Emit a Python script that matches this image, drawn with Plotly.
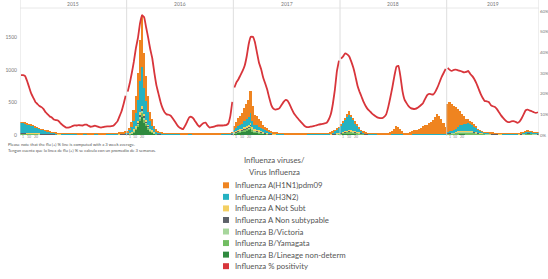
import plotly.graph_objects as go

# ---------------- data ----------------
years = ["2015", "2016", "2017", "2018", "2019"]
weeks_per_year = [52, 52, 52, 52, 45]
week_tick_text = ["1", "10", "20"]

h1n1 = ([5,5,5,4,4,4,3,3,3,3, 2,2,2,2,2,2,2,1,1,1, 1,1,1,1,1,1,1,1,1,1, 1,1,1,1,1,1,1,1,1,1, 1,1,1,1,1,2,3,5,8,10, 15,20]
        + [20,45,80,170,260,420,640,800,540,380, 250,140,95,50,30,15,10,7,5,4, 3,3,2,2,2,2,1,1,1,1, 1,1,1,1,1,1,1,1,1,1, 1,1,1,1,1,1,1,1,2,3, 5,8]
        + [60,95,130,150,170,210,240,275,340,220, 155,140,115,100,75,60,50,35,25,18, 13,10,8,6,5,4,3,3,2,2, 2,2,2,2,2,2,2,2,2,2, 2,2,2,2,2,2,2,3,4,6, 8,10]
        + [15,20,25,35,50,45,35,30,20,15, 10,5,3,2,2,2,2,2,2,2, 2,3,5,10,25,45,70,120,100,70, 40,15,10,20,30,40,55,65,85,95, 125,135,140,165,185,215,265,305,285,235, 165,105]
        + [430,445,410,370,330,270,220,160,120,80, 60,45,35,25,20,10,10,5,5,4, 4,3,3,3,2,2,2,2,2,2, 2,2,2,2,2,2,2,2,2,2, 2,2,2,2,2])

h3n2 = ([150,150,145,135,130,120,110,95,85,75, 65,58,52,40,32,25,20,15,10,8, 6,5,4,4,3,3,3,2,2,2, 2,2,2,2,2,2,2,2,2,2, 2,2,2,2,3,3,4,6,8,10, 12,15]
        + [20,40,70,130,200,320,480,600,410,290, 190,110,75,45,30,20,15,10,8,6, 5,4,4,3,3,3,2,2,2,2, 2,2,2,2,2,2,2,2,2,2, 2,2,2,2,2,2,3,3,4,6, 10,15]
        + [35,45,60,65,75,90,100,115,140,95, 70,65,55,50,38,30,25,20,15,10, 8,7,5,3,3,2,2,2,2,2, 2,2,2,2,2,2,2,2,2,3, 3,3,3,4,5,6,8,12,25,40, 60,80]
        + [110,145,185,215,240,200,165,125,90,55, 30,15,8,5,4,3,3,2,2,2, 2,2,2,2,2,2,2,2,2,2, 2,2,2,2,2,2,2,2,2,2, 2,2,2,2,2,2,2,2,2,2, 2,3]
        + [10,15,20,30,45,65,85,95,110,115, 125,115,100,85,70,40,30,20,12,10, 10,8,8,6,5,4,4,3,3,3, 3,3,3,3,4,6,10,18,25,28, 26,22,18,15,12])

a_not_subt = ([5,5,5,4,4,4,3,3,3,2, 2,2,2,2,1,1,1,1,1,1, 1,1,1,1,1,1,1,1,1,1, 1,1,1,1,1,1,1,1,1,1, 1,1,1,1,1,1,1,1,2,2, 2,3]
        + [2,3,5,15,20,30,40,50,35,30, 20,10,10,5,3,2,2,1,1,1, 1,1,1,1,1,1,1,1,1,1, 1,1,1,1,1,1,1,1,1,1, 1,1,1,1,1,1,1,1,1,1, 1,2]
        + [5,8,12,15,18,22,25,28,35,22, 15,14,12,10,8,6,5,4,3,2, 2,2,1,1,1,1,1,1,1,1, 1,1,1,1,1,1,1,1,1,1, 1,1,1,1,1,1,1,1,2,2, 3,4]
        + [5,5,10,10,10,10,10,5,5,5, 3,2,1,1,1,1,1,1,1,1, 1,1,1,1,1,1,1,2,2,1, 1,1,1,1,1,1,1,1,1,1, 1,1,1,1,1,1,1,1,1,1, 1,1]
        + [5,5,5,5,5,5,5,5,4,4, 4,3,3,3,2,2,2,1,1,1, 1,1,1,1,1,1,1,1,1,1, 1,1,1,1,1,1,1,1,1,1, 1,1,1,1,1])

a_non_subtypable = ([10,10,10,9,9,8,8,7,6,6, 6,5,5,5,5,5,5,5,6,6, 6,6,5,5,6,6,7,7,6,6, 6,7,7,6,6,6,7,7,6,6, 6,6,7,7,6,6,6,6,7,7, 7,8]
        + [6,8,10,12,12,12,20,20,20,12, 10,8,6,8,8,8,7,6,6,6, 6,6,6,6,6,6,6,6,6,6, 7,7,6,6,6,6,6,6,6,6, 6,6,6,6,6,6,6,6,7,7, 7,8]
        + [8,8,8,8,8,10,10,12,12,10, 10,8,8,8,8,7,7,6,6,6, 6,6,6,6,6,6,6,6,6,6, 6,6,6,6,6,6,7,7,7,7, 6,6,6,6,6,6,6,7,7,8, 8,8]
        + [5,5,5,5,5,5,5,5,5,5, 5,5,6,6,6,6,6,6,6,6, 6,6,6,6,6,6,6,6,6,6, 6,6,6,6,6,6,6,6,6,6, 6,6,6,6,6,6,6,6,6,6, 6,6]
        + [10,10,5,5,5,5,5,5,5,5, 5,5,5,5,5,5,5,5,5,5, 5,5,5,5,5,5,5,5,5,5, 5,5,5,5,5,5,5,6,6,6, 6,6,6,5,5])

b_victoria = ([2,2,2,2,2,2,2,2,2,1, 1,1,1,1,1,1,1,1,1,1, 0,0,0,0,0,0,0,0,0,0, 0,0,0,0,0,0,0,0,0,0, 0,0,0,0,0,0,0,0,1,1, 1,1]
        + [1,2,3,8,10,20,30,40,30,20, 15,10,5,3,2,1,1,1,1,1, 0,0,0,0,0,0,0,0,0,0, 0,0,0,0,0,0,0,0,0,0, 0,0,0,0,0,0,0,0,0,0, 0,1]
        + [2,3,5,6,7,9,10,12,15,10, 7,6,5,4,3,2,2,1,1,1, 1,0,0,0,0,0,0,0,0,0, 0,0,0,0,0,0,0,0,0,0, 0,0,0,0,0,0,0,0,1,1, 1,2]
        + [2,3,3,4,5,5,5,5,5,3, 2,1,1,1,0,0,0,0,0,0, 0,0,0,0,0,0,0,0,0,0, 0,0,0,0,0,0,0,0,0,0, 0,0,0,0,0,0,0,0,0,0, 0,0]
        + [2,3,5,5,5,10,10,10,10,10, 10,10,10,10,10,5,5,5,4,4, 3,3,2,2,2,1,1,1,1,1, 1,1,1,1,1,1,2,3,4,5, 5,4,4,3,3])

b_yamagata = ([5,5,5,5,5,5,5,4,4,4, 4,4,3,3,3,3,3,2,2,2, 2,2,1,1,1,1,1,1,1,1, 1,1,1,1,1,1,1,1,1,1, 1,1,1,1,1,1,1,1,1,2, 2,2]
        + [3,5,8,15,20,30,50,60,45,30, 25,15,10,5,4,3,2,2,1,1, 1,1,1,1,1,1,1,1,1,1, 1,1,1,1,1,1,1,1,1,1, 1,1,1,1,1,1,1,1,1,1, 1,2]
        + [8,12,15,17,20,25,28,33,40,28, 18,17,15,12,10,8,7,5,4,3, 2,2,2,2,1,1,1,1,1,1, 1,1,1,1,1,1,1,1,1,1, 1,1,1,1,1,1,1,2,3,4, 5,6]
        + [10,15,15,20,25,25,25,20,20,15, 10,10,5,4,3,2,2,2,1,1, 1,1,1,1,1,1,1,1,1,1, 1,1,1,1,1,1,1,1,1,1, 1,1,1,1,1,1,1,1,1,1, 1,2]
        + [10,15,20,20,25,30,35,35,35,35, 35,35,35,30,25,20,15,15,12,10, 10,8,8,6,5,4,4,3,3,3, 3,3,3,3,3,4,6,8,10,12, 12,10,9,8,6])

b_lineage_nd = ([15,15,15,14,14,13,13,12,12,11, 10,10,10,9,9,8,7,6,6,6, 5,5,5,5,5,5,5,5,5,5, 5,5,5,5,5,5,5,5,5,5, 5,5,5,5,5,5,5,5,5,6, 6,7]
        + [8,12,20,40,80,130,210,280,190,140, 90,55,40,25,12,8,6,5,5,5, 5,5,5,5,5,5,5,5,5,5, 5,5,5,5,5,5,5,5,5,5, 5,5,5,5,5,5,5,5,5,6, 6,8]
        + [22,29,38,39,47,54,67,70,90,57, 40,38,30,28,19,17,14,9,6,5, 5,5,5,5,5,5,5,5,5,5, 5,5,5,5,5,5,5,5,5,5, 5,5,5,5,5,5,5,6,7,8, 10,12]
        + [15,20,25,30,30,25,20,20,15,15, 15,10,7,6,5,5,5,5,5,5, 5,5,5,5,5,5,5,5,5,5, 5,5,5,5,5,5,5,5,5,5, 5,5,5,5,5,5,5,5,5,5, 5,5]
        + [10,10,10,10,10,10,10,10,10,5, 5,5,5,5,5,5,5,5,5,5, 5,5,5,5,5,5,5,5,5,5, 5,5,5,5,5,5,5,6,7,8, 8,7,6,6,5])

pct_2015 = [29,29,28.5,26,23,20,18,16,15,14, 13.5,12.5,11,10,9,8.5,7.5,7.2,7,6, 5,4.2,3.6,3.6,3.8,4.3,4.7,4.6,4.8,4.7,
            4.6,5,5,4.4,4,4.2,4.5,4.2,3.8,3.6, 3.8,4,4.2,4.2,4.3,4.5,5.5,6.6,9,11.5, 15,19]
pct_2016 = [21,25,30,35.5,42,47,54,58,57,52, 47,41.5,37,30,24,20,16,13,11,10, 9.8,9.3,8,6.5,5,3.8,3.2,2.8,4.5,6.5,
            8.5,8.8,8,6.5,5,4,5,5.8,6,4.5, 3.6,3.8,4,4.4,4.6,4.6,4.6,4.7,4.8,5.5, 9,16]
pct_2017 = [23,25.5,27,29,31,33.5,38,44,47.5,47.5, 45,40,35,32,28,25,22,18,14.5,12.8, 12.3,12.5,13,14.5,16,17,16.5,14.7,12.5,10.5,
            9.2,8,6.8,5.7,4.6,3.9,3.8,4,4.2,4.4, 4.7,5,5.2,5.4,5.6,5.9,7.5,10,15,22, 31,36]
pct_2018 = [37,38,39.5,39,38,35.5,32.5,28.5,24,21, 18.5,16,14,12.5,11.5,10.5,9.7,9,8.4,8.2, 8.2,8.8,10,13.5,18,23,28.5,33,33.5,28,
            21,17,15.3,13.8,13,12.7,12.6,13,13.7,14.5, 15.5,17.5,19.3,19.9,19.7,19.6,21,23,25.5,28, 30,32]
pct_2019 = [32.5,31.5,31,31.5,31.6,31.3,31,30.7,30.3,30.5, 31,29.5,28.5,27,25,22.5,20,18,16.5,16.3, 16,14.5,13.9,13.6,12.5,11,9.5,8.3,7.2,6.4,
            6.2,6.6,6.7,6.4,5.9,6.5,8,10,12,12.3, 11.8,11.5,11,10.7,11]
pct_by_year = [pct_2015, pct_2016, pct_2017, pct_2018, pct_2019]

left_ticks = [0, 500, 1000, 1500]
left_tick_text = ["0", "500", "1000", "1500"]
right_ticks = [0, 10, 20, 30, 40, 50, 60]
right_tick_text = ["0%", "10%", "20%", "30%", "40%", "50%", "60%"]

series = [
    ("Influenza B/Lineage non-determ", b_lineage_nd, "#2f8a3f"),
    ("Influenza B/Yamagata", b_yamagata, "#72bd62"),
    ("Influenza B/Victoria", b_victoria, "#a7d69c"),
    ("Influenza A Non subtypable", a_non_subtypable, "#5d6169"),
    ("Influenza A Not Subt", a_not_subt, "#f3cf62"),
    ("Influenza A(H3N2)", h3n2, "#25b2c2"),
    ("Influenza A(H1N1)pdm09", h1n1, "#ef8420"),
]
legend_order = ["Influenza A(H1N1)pdm09", "Influenza A(H3N2)", "Influenza A Not Subt",
                "Influenza A Non subtypable", "Influenza B/Victoria", "Influenza B/Yamagata",
                "Influenza B/Lineage non-determ", "Influenza % positivity"]
RED = "#d8353b"

# ---------------- geometry ----------------
WIDTH, HEIGHT = 548, 279
L, R, T, B = 20, 539, 8, 135.5
PW, PH = R - L, B - T
SLOTS = 52

def px(xp):
    return (xp - L) / PW

def py(yp):
    return (B - yp) / PH

x_by_year = []
for i, n in enumerate(weeks_per_year):
    x_by_year.append([SLOTS * i + k - 0.5 for k in range(1, n + 1)])
x_all = [v for xs in x_by_year for v in xs]
x_max = SLOTS * (len(years) - 1) + weeks_per_year[-1]

fig = go.Figure()
for name, vals, col in series:
    fig.add_trace(go.Bar(x=x_all, y=vals, name=name, marker=dict(color=col, line=dict(width=0)),
                         width=0.88, showlegend=False))
for xs, ps in zip(x_by_year, pct_by_year):
    fig.add_trace(go.Scatter(x=xs, y=ps, yaxis="y2", mode="lines",
                             line=dict(color=RED, width=1.8, shape="spline", smoothing=0.3),
                             showlegend=False, hoverinfo="skip"))

left_top = (B - T) / 32.6 * 500
right_top = (B - T) / 2.075

fig.update_layout(
    width=WIDTH, height=HEIGHT, autosize=False,
    margin=dict(l=L, r=WIDTH - R, t=T, b=HEIGHT - B, autoexpand=False),
    paper_bgcolor="white", plot_bgcolor="white",
    barmode="stack", bargap=0,
    font=dict(family="Lato, Roboto, Arial, sans-serif", color="#555"),
    xaxis=dict(range=[0, x_max], showticklabels=False, showgrid=False, zeroline=False,
               showline=False, fixedrange=True, automargin=False),
    yaxis=dict(range=[0, left_top], tickvals=left_ticks, ticktext=left_tick_text,
               tickfont=dict(size=5, color="#777"), showgrid=False, zeroline=False,
               showline=False, ticks="", ticklabelstandoff=2, automargin=False),
    yaxis2=dict(range=[0, right_top], overlaying="y", side="right", tickvals=right_ticks,
                ticktext=right_tick_text, tickfont=dict(size=4.4, color="#777"),
                showgrid=False, zeroline=False, showline=False, ticks="", ticklabelstandoff=0,
                automargin=False),
)

shapes = []
LINE = "#d4d4d4"
for i in range(len(years) + 1):
    xv = SLOTS * i if i < len(years) else x_max
    shapes.append(dict(type="line", xref="x", yref="paper", x0=xv, x1=xv,
                       y0=py(B + 1), y1=py(0), line=dict(color=LINE, width=0.8)))
shapes.append(dict(type="line", xref="paper", yref="paper", x0=0, x1=1, y0=1, y1=1,
                   line=dict(color="#e2e2e2", width=0.8)))

annotations = []
for i, yname in enumerate(years):
    annotations.append(dict(x=SLOTS * i + weeks_per_year[i] / 2, y=py(4), xref="x", yref="paper",
                            text=yname, showarrow=False, font=dict(size=5, color="#777"),
                            xanchor="center", yanchor="middle"))
    for wk, t in zip([1.5, 4.2, 7.6], week_tick_text):
        annotations.append(dict(x=SLOTS * i + wk, y=py(137.5), xref="x", yref="paper", text=t,
                                showarrow=False, font=dict(size=3.5, color="#888"),
                                xanchor="center", yanchor="middle"))

annotations.append(dict(x=px(6), y=py(144.7), xref="paper", yref="paper", showarrow=False,
                        text="Please note that the flu (+) % line is computed with a 3 week average.",
                        font=dict(size=4.2, color="#555"), xanchor="left", yanchor="middle"))
annotations.append(dict(x=px(6), y=py(150.7), xref="paper", yref="paper", showarrow=False,
                        text="Tengan cuenta que la linea de flu (+) % se calcula con un promedio de 3 semanas.",
                        font=dict(size=4.2, color="#555"), xanchor="left", yanchor="middle"))

TXT = "#555"
annotations.append(dict(x=px(274), y=py(160.5), xref="paper", yref="paper", showarrow=False,
                        text="Influenza viruses/", font=dict(size=7.8, color=TXT),
                        xanchor="center", yanchor="middle"))
annotations.append(dict(x=px(274), y=py(172.5), xref="paper", yref="paper", showarrow=False,
                        text="Virus Influenza", font=dict(size=7.8, color=TXT),
                        xanchor="center", yanchor="middle"))
colors = {n: c for n, _, c in series}
colors["Influenza % positivity"] = RED
row0, dy = 186, 11.6
for j, name in enumerate(legend_order):
    yc = row0 + j * dy
    shapes.append(dict(type="rect", xref="paper", yref="paper", x0=px(223), x1=px(229),
                       y0=py(yc + 3), y1=py(yc - 3), fillcolor=colors[name], line=dict(width=0)))
    annotations.append(dict(x=px(232.5), y=py(yc), xref="paper", yref="paper", showarrow=False,
                            text=name, font=dict(size=7.8, color=TXT),
                            xanchor="left", yanchor="middle"))

fig.update_layout(shapes=shapes, annotations=annotations)
fig.write_html("out.html", config={"displayModeBar": False},
               post_script="document.body.style.margin='0px';")
